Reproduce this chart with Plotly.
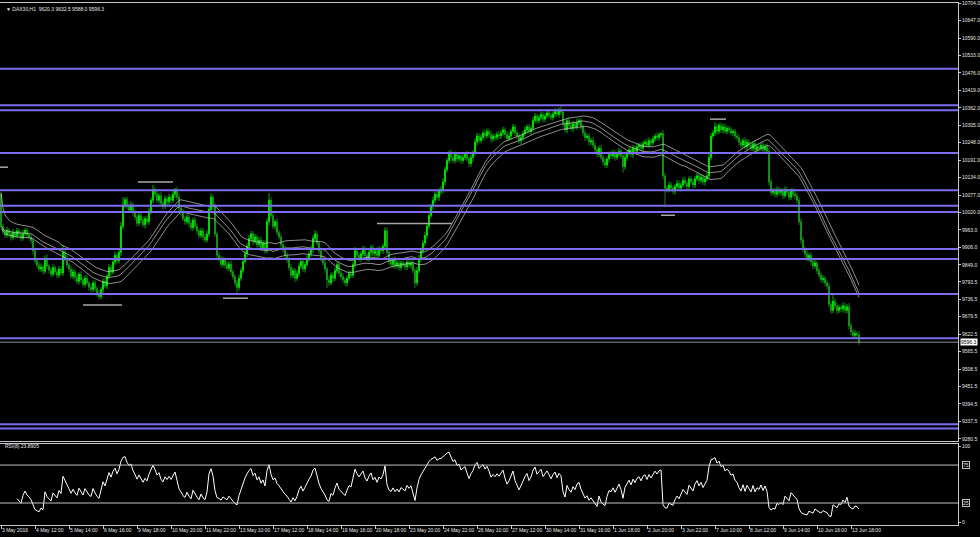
import numpy as np
import pandas as pd
import plotly.graph_objects as go

# ---------------- data ----------------
first_open = 10080.0
close = [
    9975, 9958, 9946, 9962, 9951, 9938, 9955, 9944, 9960, 9949,
    9936, 9952, 9962, 9947, 9940, 9928, 9895, 9862, 9848, 9835,
    9842, 9828, 9870, 9845, 9832, 9818, 9840, 9826, 9815, 9835,
    9822, 9890, 9872, 9848, 9835, 9812, 9826, 9808, 9795, 9818,
    9800, 9785, 9805, 9790, 9776, 9768, 9790, 9772, 9755, 9745,
    9768, 9795, 9780, 9812, 9840, 9825, 9858, 9880, 9862, 9890,
    9975, 10045, 10062, 10040, 10028, 10045, 10020, 10005, 9985, 10010,
    9995, 9980, 10000, 9990, 10025, 10060, 10095, 10080, 10060, 10075,
    10050, 10040, 10065, 10055, 10070, 10060, 10080, 10095, 10070, 10035,
    10020, 10000, 9990, 10005, 9985, 9970, 9995, 9975, 9960, 9945,
    9960, 9940, 9930, 9950, 10030, 10070, 10040, 9950, 9880, 9870,
    9850, 9865, 9848, 9838, 9852, 9826, 9810, 9790, 9775, 9805,
    9830, 9860, 9885, 9910, 9935, 9950, 9925, 9940, 9915, 9930,
    9905, 9920, 9895, 9990, 10060, 10010, 9975, 9990, 9955, 9940,
    9915, 9900, 9880, 9865, 9840, 9815, 9830, 9805, 9820, 9845,
    9860, 9835, 9850, 9870, 9885, 9900, 9935, 9950, 9920, 9895,
    9870, 9855, 9835, 9800, 9790, 9815, 9805, 9830, 9850, 9822,
    9810, 9800, 9790, 9805, 9820, 9815, 9850, 9895, 9880, 9870,
    9885, 9900, 9880, 9870, 9890, 9905, 9885, 9895, 9880, 9900,
    9895, 9910, 9960, 9890, 9860, 9850, 9865, 9845, 9855, 9840,
    9855, 9850, 9842, 9858, 9848, 9855, 9830, 9790, 9830, 9870,
    9895, 9920, 9945, 9975, 10010, 10040, 10060, 10080, 10070, 10090,
    10095, 10120, 10160, 10190, 10215, 10200, 10190, 10210, 10195, 10205,
    10190, 10200, 10210, 10195, 10180, 10200, 10215, 10250, 10270, 10255,
    10265, 10280, 10270, 10285, 10275, 10260, 10270, 10265, 10275, 10270,
    10280, 10290, 10275, 10262, 10270, 10285, 10300, 10280, 10270, 10255,
    10265, 10278, 10290, 10300, 10285, 10295, 10320, 10335, 10320, 10330,
    10340, 10325, 10335, 10345, 10338, 10330, 10342, 10350, 10340, 10352,
    10348, 10310, 10290, 10320, 10305, 10295, 10310, 10300, 10315, 10320,
    10300, 10280, 10265, 10270, 10250, 10255, 10240, 10225, 10210, 10230,
    10200, 10185, 10175, 10195, 10210, 10205, 10215, 10200, 10210, 10220,
    10205, 10170, 10200, 10215, 10225, 10210, 10230, 10220, 10235, 10240,
    10230, 10245, 10250, 10240, 10255, 10248, 10260, 10270, 10265, 10275,
    10278, 10140, 10100, 10095, 10110, 10100, 10090, 10105, 10115, 10100,
    10110, 10125, 10115, 10105, 10130, 10120, 10110, 10130, 10140, 10125,
    10135, 10120, 10130, 10140, 10200, 10270, 10280, 10300, 10285, 10305,
    10290, 10300, 10285, 10295, 10290, 10280, 10285, 10270, 10265, 10250,
    10240, 10255, 10235, 10250, 10240, 10230, 10245, 10225, 10235, 10230,
    10240, 10225, 10235, 10220, 10120, 10085, 10090, 10080, 10095, 10085,
    10090, 10075, 10095, 10085, 10070, 10090, 10080, 10075, 10060, 9990,
    9930, 9900, 9885, 9870, 9880, 9860, 9845, 9855, 9830, 9815,
    9800, 9805, 9790, 9780, 9720, 9700, 9730, 9715, 9700, 9710,
    9705, 9715, 9700, 9712, 9650, 9630, 9618, 9625, 9620.3, 9596.3,
]
up_wick = [
    5, 8, 10, 12, 7, 9, 11, 6, 10, 8,
    9, 12, 7, 6, 10, 8, 11, 9, 7, 10,
    12, 8, 10, 14, 6, 9, 11, 7, 8, 10,
    9, 23, 8, 10, 7, 11, 9, 8, 12, 7,
    10, 8, 9, 12, 6, 10, 8, 9, 7, 11,
    9, 10, 12, 8, 11, 9, 10, 12, 8, 11,
    14, 25, 8, 10, 9, 12, 7, 10, 8, 11,
    9, 12, 8, 10, 11, 9, 15, 8, 10, 9,
    12, 8, 10, 9, 11, 8, 12, 5, 9, 10,
    8, 11, 9, 10, 7, 12, 8, 10, 9, 8,
    10, 9, 11, 12, 14, 13, 9, 10, 8, 11,
    9, 10, 8, 12, 9, 11, 8, 10, 9, 12,
    10, 9, 11, 8, 12, 10, 9, 11, 8, 10,
    12, 9, 10, 11, 23, 9, 10, 8, 12, 9,
    10, 8, 11, 9, 10, 12, 8, 9, 11, 10,
    9, 11, 8, 10, 9, 12, 10, 12, 9, 8,
    11, 9, 10, 8, 12, 9, 10, 11, 8, 9,
    10, 12, 8, 9, 11, 10, 9, 12, 8, 10,
    9, 11, 10, 8, 12, 9, 10, 8, 11, 9,
    10, 8, 12, 11, 9, 10, 8, 12, 9, 10,
    8, 10, 9, 11, 10, 8, 9, 10, 12, 11,
    10, 9, 12, 10, 11, 9, 12, 8, 10, 9,
    11, 12, 10, 9, 8, 11, 10, 9, 8, 10,
    9, 10, 8, 11, 9, 10, 8, 12, 10, 9,
    10, 8, 11, 9, 10, 12, 8, 9, 10, 11,
    9, 10, 8, 11, 12, 9, 10, 8, 9, 11,
    10, 9, 11, 8, 10, 9, 12, 10, 8, 9,
    10, 8, 9, 11, 10, 9, 8, 10, 9, 11,
    16, 10, 9, 8, 11, 10, 9, 8, 12, 7,
    10, 9, 11, 8, 10, 9, 12, 8, 10, 9,
    11, 9, 10, 8, 9, 11, 10, 9, 8, 10,
    9, 10, 11, 8, 10, 9, 11, 10, 9, 8,
    10, 9, 8, 11, 10, 9, 10, 8, 11, 7,
    4, 12, 10, 9, 11, 10, 9, 8, 11, 10,
    9, 10, 11, 9, 8, 10, 11, 9, 10, 8,
    10, 9, 8, 11, 12, 10, 9, 15, 10, 8,
    9, 10, 11, 8, 9, 10, 8, 9, 11, 10,
    9, 8, 11, 10, 9, 10, 8, 11, 9, 10,
    8, 10, 9, 11, 12, 10, 9, 11, 10, 9,
    10, 9, 11, 8, 10, 9, 10, 11, 9, 10,
    11, 10, 9, 12, 8, 10, 9, 11, 8, 10,
    9, 10, 8, 11, 12, 10, 27, 9, 10, 8,
    9, 11, 10, 9, 12, 10, 9, 11, 8, 12.2,
]
down_wick = [
    7, 10, 9, 8, 11, 10, 7, 9, 8, 12,
    10, 8, 9, 11, 7, 10, 12, 9, 10, 8,
    9, 11, 8, 10, 12, 9, 8, 11, 10, 9,
    8, 10, 12, 9, 11, 8, 10, 12, 9, 10,
    11, 9, 10, 8, 12, 10, 9, 11, 10, 10,
    9, 11, 8, 10, 9, 12, 8, 10, 11, 9,
    12, 10, 9, 11, 8, 10, 12, 9, 11, 8,
    10, 9, 12, 8, 10, 11, 9, 10, 8, 11,
    9, 10, 8, 11, 9, 10, 8, 12, 9, 10,
    11, 8, 10, 9, 12, 8, 10, 9, 11, 10,
    9, 11, 10, 8, 10, 9, 11, 10, 9, 12,
    10, 9, 11, 8, 10, 12, 9, 11, 18, 10,
    9, 10, 8, 11, 10, 9, 12, 8, 10, 9,
    11, 9, 10, 8, 12, 10, 9, 11, 10, 8,
    10, 12, 9, 10, 11, 9, 10, 12, 8, 10,
    9, 10, 11, 8, 10, 9, 11, 10, 9, 12,
    10, 9, 11, 27, 10, 8, 12, 9, 10, 11,
    9, 11, 10, 12, 8, 10, 9, 11, 10, 9,
    10, 8, 11, 9, 10, 12, 8, 10, 9, 11,
    9, 10, 8, 11, 10, 9, 12, 10, 8, 11,
    10, 9, 11, 10, 8, 12, 9, 17, 10, 9,
    11, 10, 9, 12, 10, 8, 11, 9, 10, 12,
    10, 12, 11, 9, 10, 11, 9, 10, 12, 9,
    11, 9, 10, 8, 12, 10, 14, 9, 11, 10,
    9, 10, 12, 8, 10, 11, 9, 10, 8, 11,
    10, 9, 11, 10, 8, 12, 9, 11, 10, 9,
    11, 10, 9, 12, 8, 10, 11, 9, 10, 8,
    9, 11, 10, 8, 12, 9, 10, 11, 9, 10,
    10, 12, 9, 11, 10, 8, 12, 9, 10, 11,
    9, 10, 12, 8, 11, 10, 9, 12, 10, 9,
    10, 11, 9, 10, 12, 9, 10, 11, 8, 10,
    9, 20, 10, 11, 9, 10, 12, 9, 10, 11,
    10, 9, 11, 8, 10, 12, 9, 10, 11, 9,
    10, 12, 63, 10, 9, 11, 10, 12, 9, 10,
    11, 9, 10, 12, 10, 9, 11, 10, 8, 12,
    9, 10, 12, 9, 11, 10, 9, 10, 12, 9,
    10, 11, 9, 10, 12, 9, 11, 10, 9, 10,
    11, 9, 10, 12, 9, 10, 11, 9, 10, 12,
    9, 10, 11, 9, 12, 10, 9, 11, 10, 9,
    10, 12, 9, 10, 11, 9, 10, 12, 10, 11,
    12, 10, 11, 9, 10, 12, 10, 9, 11, 10,
    10, 9, 11, 12, 10, 11, 9, 10, 12, 9,
    10, 11, 9, 10, 12, 11, 10, 9, 10, 8.3,
]

levels = [10490, 10370, 10354, 10214.6, 10093, 10041.7, 10022, 9900.4,
          9867.8, 9753.6, 9609, 9328.4, 9314]
mark_start = [-0.5, 68.5, 41, 111, 188, 330, 354.5]
mark_end = [3.5, 86, 60.5, 123.5, 225.5, 337, 362.5]
mark_price = [10168, 10120, 9718, 9740, 9984, 10011, 10325]

last_price = 9596.3
price_ticks = [10704.0, 10647.0, 10590.0, 10533.0, 10476.0, 10419.0, 10362.0,
               10305.0, 10248.0, 10191.0, 10134.0, 10077.0, 10020.0, 9963.0,
               9906.0, 9849.0, 9793.5, 9736.5, 9679.5, 9622.5, 9565.5, 9508.5,
               9451.5, 9394.5, 9337.5, 9280.5]
price_ticktext = ["%.1f" % v for v in price_ticks]
date_labels = ["3 May 2016", "4 May 12:00", "5 May 14:00", "6 May 16:00",
               "9 May 18:00", "10 May 20:00", "11 May 22:00", "13 May 10:00",
               "17 May 12:00", "18 May 14:00", "19 May 16:00", "20 May 18:00",
               "23 May 20:00", "24 May 22:00", "26 May 10:00", "27 May 12:00",
               "30 May 14:00", "31 May 16:00", "1 Jun 18:00", "2 Jun 20:00",
               "3 Jun 22:00", "7 Jun 10:00", "8 Jun 12:00", "9 Jun 14:00",
               "10 Jun 16:00", "13 Jun 18:00"]
bars_per_label = 17
rsi_period = 8
ma_period = 30
rsi_levels = [75, 25]
header = "\u25BC DAX30,H1  9620.3 9632.5 9588.0 9596.3"
rsi_title = "RSI(8) 23.8905"

# ---------------- derived ----------------
c = np.array(close, dtype=float)
o = np.concatenate([[first_open], c[:-1]])
h = np.maximum(o, c) + np.array(up_wick, dtype=float)
l = np.minimum(o, c) - np.array(down_wick, dtype=float)
n = len(c)
x = np.arange(n)

ma_hi = pd.Series(h).rolling(ma_period, min_periods=1).mean()
ma_cl = pd.Series(c).rolling(ma_period, min_periods=1).mean()
ma_lo = pd.Series(l).rolling(ma_period, min_periods=1).mean()

d = np.diff(c)
gain = pd.Series(np.where(d > 0, d, 0.0)).ewm(alpha=1 / rsi_period, adjust=False,
                                              min_periods=rsi_period).mean()
loss = pd.Series(np.where(d < 0, -d, 0.0)).ewm(alpha=1 / rsi_period, adjust=False,
                                               min_periods=rsi_period).mean()
rsi = np.concatenate([[np.nan], (100 - 100 / (1 + gain / loss)).values])

FONT = "Liberation Sans, Arial, sans-serif"
FS = 5
AX = "#c8c8c8"
TXT = "#e6e6e6"

fig = go.Figure()
fig.add_trace(go.Candlestick(
    x=x, open=o, high=h, low=l, close=c,
    increasing=dict(line=dict(color="#00ff00", width=0.7), fillcolor="#00ff00"),
    decreasing=dict(line=dict(color="#1fb31f", width=0.7), fillcolor="#0a7a0a"),
    whiskerwidth=0, showlegend=False, hoverinfo="skip",
    xaxis="x", yaxis="y"))
for s in (ma_hi, ma_cl, ma_lo):
    fig.add_trace(go.Scatter(x=x, y=s, mode="lines",
                             line=dict(color="#c8c8c8", width=0.7),
                             showlegend=False, hoverinfo="skip",
                             xaxis="x", yaxis="y"))
fig.add_trace(go.Scatter(x=x, y=rsi, mode="lines",
                         line=dict(color="#ffffff", width=1),
                         showlegend=False, hoverinfo="skip",
                         xaxis="x2", yaxis="y2"))

shapes = []
for lv in levels:
    shapes.append(dict(type="line", xref="x domain", yref="y", x0=0, x1=1,
                       y0=lv, y1=lv, line=dict(color="#7b6cf0", width=2), layer="above"))
shapes.append(dict(type="line", xref="x domain", yref="y", x0=0, x1=1,
                   y0=last_price, y1=last_price, line=dict(color="#909090", width=1)))
for a, b, p in zip(mark_start, mark_end, mark_price):
    shapes.append(dict(type="line", xref="x", yref="y", x0=a, x1=b, y0=p, y1=p,
                       line=dict(color="#a8a8a8", width=1.5)))
for lv in rsi_levels:
    shapes.append(dict(type="line", xref="x2 domain", yref="y2", x0=0, x1=1,
                       y0=lv, y1=lv, line=dict(color="#c0c0c0", width=1)))

annotations = [
    dict(text=header, xref="paper", yref="paper", x=0, y=1, xanchor="left",
         yanchor="top", xshift=4, yshift=-1, showarrow=False,
         font=dict(family=FONT, size=FS, color=TXT)),
    dict(text=rsi_title, xref="paper", yref="y2", x=0, y=100, xanchor="left",
         yanchor="middle", xshift=3, showarrow=False,
         font=dict(family=FONT, size=FS, color=TXT)),
    dict(text="%.1f" % last_price, xref="paper", yref="y", x=1, y=last_price,
         xanchor="left", yanchor="middle", xshift=2, showarrow=False,
         bgcolor="#ffffff", borderpad=0,
         font=dict(family=FONT, size=FS, color="#000000")),
]
for lv in rsi_levels:
    annotations.append(dict(text=str(lv), xref="paper", yref="y2", x=1, y=lv,
                            xanchor="left", yanchor="middle", xshift=4,
                            showarrow=False, bordercolor="#c0c0c0",
                            borderwidth=1, borderpad=0,
                            font=dict(family=FONT, size=FS, color=TXT)))

xr = [-0.5, 478.5]
fig.update_layout(
    width=980, height=537,
    margin=dict(l=0, r=22, t=3, b=12),
    paper_bgcolor="#000000", plot_bgcolor="#000000",
    showlegend=False, shapes=shapes, annotations=annotations,
    font=dict(family=FONT, size=FS, color=TXT),
    xaxis=dict(domain=[0, 1], anchor="y", range=xr, showticklabels=False,
               showgrid=False, zeroline=False, showline=True, mirror=True,
               linecolor=AX, linewidth=1, ticks="", rangeslider=dict(visible=False)),
    yaxis=dict(domain=[0.161, 1], anchor="x", side="right", range=[9273.5, 10704.5],
               tickmode="array", tickvals=price_ticks, ticktext=price_ticktext,
               ticks="outside", ticklen=2, tickcolor=AX, showgrid=False,
               ticklabeloverflow="allow",
               zeroline=False, showline=True, linecolor=AX, linewidth=1,
               tickfont=dict(family=FONT, size=FS, color=TXT)),
    xaxis2=dict(domain=[0, 1], anchor="y2", matches="x", range=xr,
                tickmode="array",
                tickvals=[k * bars_per_label for k in range(len(date_labels))],
                ticktext=date_labels, ticklabelposition="outside right",
                tickangle=0, ticks="outside", ticklen=3, tickcolor=AX,
                ticklabeloverflow="allow",
                showgrid=False, zeroline=False, showline=True, mirror=True,
                linecolor=AX, linewidth=1,
                tickfont=dict(family=FONT, size=FS, color=TXT)),
    yaxis2=dict(domain=[0, 0.155], anchor="x2", side="right", range=[-3.95, 102.63],
                tickmode="array", tickvals=[100, 0], ticktext=["100", "0"],
                ticks="outside", ticklen=2, tickcolor=AX, showgrid=False,
                ticklabeloverflow="allow",
                zeroline=False, showline=True, linecolor=AX, linewidth=1,
                tickfont=dict(family=FONT, size=FS, color=TXT)),
)

fig.write_html("out.html", config={"displayModeBar": False},
               post_script="document.body.style.margin='0';document.body.style.background='#000';")
